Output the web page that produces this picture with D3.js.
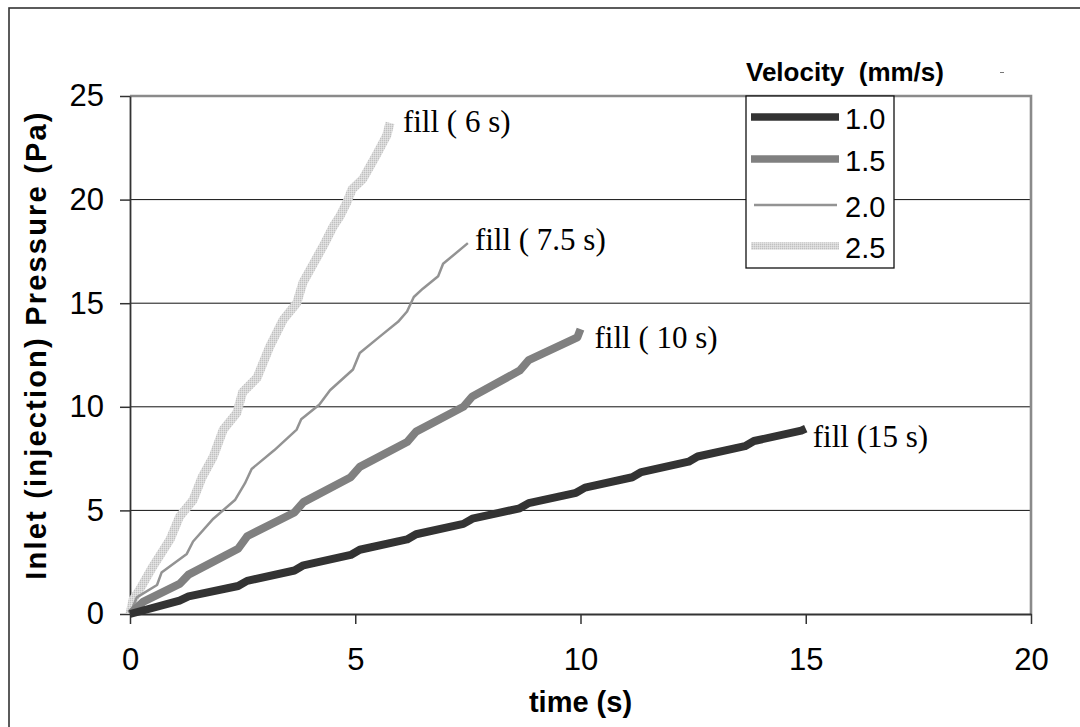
<!DOCTYPE html>
<html>
<head>
<meta charset="utf-8">
<script src="https://cdn.jsdelivr.net/npm/d3@7"></script>
<style>
  html, body { margin: 0; padding: 0; background: #ffffff; }
  svg { display: block; }
</style>
</head>
<body>
<svg id="chart" width="1080" height="727"></svg>
<script>
// Inlet pressure vs. time for four injection velocities

// axis ticks
const xTicks = [0, 5, 10, 15, 20];
const yTicks = [0, 5, 10, 15, 20, 25];

// velocity 1.0 mm/s  (fills in 15 s)
const time10 = [0, 1.1, 1.3, 2.4, 2.6, 3.65, 3.85, 4.9, 5.1, 6.15, 6.35, 7.4, 7.6, 8.65, 8.85, 9.9, 10.1, 11.15, 11.35, 12.4, 12.6, 13.65, 13.85, 14.9, 15.0];
const pres10 = [0, 0.65, 0.85, 1.35, 1.6, 2.1, 2.35, 2.85, 3.1, 3.6, 3.85, 4.35, 4.6, 5.1, 5.35, 5.85, 6.1, 6.6, 6.85, 7.35, 7.6, 8.1, 8.35, 8.85, 8.95];

// velocity 1.5 mm/s  (fills in 10 s)
const time15 = [0, 0.3, 1.1, 1.3, 2.4, 2.6, 3.65, 3.85, 4.9, 5.1, 6.15, 6.35, 7.4, 7.6, 8.65, 8.85, 9.93, 10.0];
const pres15 = [0, 0.6, 1.45, 1.9, 3.15, 3.75, 4.9, 5.4, 6.6, 7.1, 8.3, 8.8, 10.0, 10.5, 11.75, 12.25, 13.35, 13.75];

// velocity 2.0 mm/s  (fills in 7.5 s)
const time20 = [0, 0.15, 0.6, 0.7, 1.26, 1.4, 1.85, 2.33, 2.55, 2.7, 3.2, 3.7, 3.8, 4.2, 4.44, 4.95, 5.1, 5.55, 5.95, 6.15, 6.3, 6.5, 6.84, 6.95, 7.5];
const pres20 = [0, 0.8, 1.4, 2.0, 2.9, 3.5, 4.6, 5.5, 6.3, 7.0, 7.9, 8.9, 9.4, 10.1, 10.8, 11.8, 12.6, 13.4, 14.1, 14.6, 15.3, 15.7, 16.3, 16.9, 17.9];

// velocity 2.5 mm/s  (fills in 6 s)
const time25 = [0, 0.07, 0.22, 0.51, 0.89, 1.1, 1.4, 1.6, 1.85, 2.07, 2.37, 2.5, 2.82, 3.1, 3.4, 3.7, 3.84, 4.07, 4.3, 4.51, 4.66, 4.82, 4.93, 5.17, 5.3, 5.48, 5.7, 5.77];
const pres25 = [0, 0.7, 1.2, 2.3, 3.6, 4.7, 5.5, 6.6, 7.6, 8.9, 9.7, 10.7, 11.4, 12.9, 14.2, 15.0, 16.0, 16.9, 17.8, 18.7, 19.2, 19.9, 20.5, 21.0, 21.5, 22.2, 23.1, 23.7];

// legend entries and end-of-curve labels
const velocities = ["1.0", "1.5", "2.0", "2.5"];
const fillLabels = ["fill (15 s)", "fill ( 10 s)", "fill ( 7.5 s)", "fill ( 6 s)"];

const svg = d3.select("#chart");
const W = 1080, H = 727;
const plot = { left: 130, right: 1031, top: 96, bottom: 614 };

const x = d3.scaleLinear().domain([0, 20]).range([plot.left, plot.right]);
const y = d3.scaleLinear().domain([0, 25]).range([plot.bottom, plot.top]);

// speckled fill used for the 2.5 mm/s curve
const defs = svg.append("defs");
const pat = defs.append("pattern")
  .attr("id", "speckle").attr("patternUnits", "userSpaceOnUse")
  .attr("width", 2).attr("height", 2);
pat.append("rect").attr("width", 2).attr("height", 2).attr("fill", "#d8d8d8");
pat.append("rect").attr("width", 1).attr("height", 1).attr("fill", "#c0c0c0");
pat.append("rect").attr("x", 1).attr("y", 1).attr("width", 1).attr("height", 1).attr("fill", "#e4e4e4");

// outer frame
svg.append("rect")
  .attr("x", 9).attr("y", 8).attr("width", W + 20).attr("height", H + 20)
  .attr("fill", "none").attr("stroke", "#333").attr("stroke-width", 1.6);

// horizontal gridlines
svg.append("g").selectAll("line")
  .data(yTicks.filter(v => v > 0 && v < 25))
  .join("line")
  .attr("x1", plot.left).attr("x2", plot.right)
  .attr("y1", d => y(d)).attr("y2", d => y(d))
  .attr("stroke", "#111").attr("stroke-width", 1);

// top and right borders of the plot area
svg.append("path")
  .attr("d", `M${plot.left},${y(25)}H${x(20)}V${plot.bottom}`)
  .attr("fill", "none").attr("stroke", "#8a8a8a").attr("stroke-width", 2.6);

// axes
const fontSans = "'Liberation Sans', Arial, sans-serif";
const yAxis = svg.append("g")
  .attr("transform", `translate(${plot.left},0)`)
  .call(d3.axisLeft(y).tickValues(yTicks).tickSizeInner(10).tickSizeOuter(0).tickPadding(16));
const xAxis = svg.append("g")
  .attr("transform", `translate(0,${plot.bottom})`)
  .call(d3.axisBottom(x).tickValues(xTicks).tickSizeInner(10).tickSizeOuter(0).tickPadding(24));
[yAxis, xAxis].forEach(g => {
  g.select(".domain").attr("stroke", "#333").attr("stroke-width", 1.8);
  g.selectAll(".tick line").attr("stroke", "#333").attr("stroke-width", 1.5);
  g.selectAll("text").attr("font-family", fontSans).attr("font-size", 31).attr("fill", "#000");
});

// axis titles
svg.append("text")
  .attr("x", x(10)).attr("y", 712)
  .attr("text-anchor", "middle")
  .attr("font-family", fontSans).attr("font-weight", "bold").attr("font-size", 29)
  .text("time (s)");
svg.append("text")
  .attr("transform", `translate(46,345) rotate(-90)`)
  .attr("text-anchor", "middle")
  .attr("font-family", fontSans).attr("font-weight", "bold").attr("font-size", 29)
  .attr("letter-spacing", 2.2)
  .text("Inlet (injection) Pressure (Pa)");

// series
const series = [
  { t: time10, p: pres10, stroke: "#333333", width: 8 },
  { t: time15, p: pres15, stroke: "#808080", width: 8 },
  { t: time20, p: pres20, stroke: "#939393", width: 2.5 },
  { t: time25, p: pres25, stroke: "url(#speckle)", width: 9 }
];
const line = d3.line().x(d => x(d[0])).y(d => y(d[1]));

const curves = svg.append("g");
// lightest first so the darker curves sit on top near the origin
[3, 2, 1, 0].forEach(i => {
  const s = series[i];
  curves.append("path")
    .datum(d3.zip(s.t, s.p))
    .attr("d", line)
    .attr("fill", "none")
    .attr("stroke", s.stroke)
    .attr("stroke-width", s.width)
    .attr("stroke-linejoin", "round")
    .attr("stroke-linecap", "butt");
});

// end-of-curve labels
const labelOffsets = [[7, 18], [14, 19], [7, 7], [13, 9]];
series.forEach((s, i) => {
  const n = s.t.length - 1;
  svg.append("text")
    .attr("x", x(s.t[n]) + labelOffsets[i][0])
    .attr("y", y(s.p[n]) + labelOffsets[i][1])
    .attr("font-family", "'Liberation Serif', 'Times New Roman', serif")
    .attr("font-size", 31)
    .text(fillLabels[i]);
});

// legend
const lg = svg.append("g");
lg.append("rect")
  .attr("x", 746).attr("y", 96).attr("width", 148).attr("height", 172)
  .attr("fill", "#fff").attr("stroke", "#111").attr("stroke-width", 1.3);
const rowY = [117, 159, 205, 246];
velocities.forEach((v, i) => {
  const s = series[i];
  lg.append("line")
    .attr("x1", i === 2 ? 754 : 751).attr("x2", i === 2 ? 837 : 839)
    .attr("y1", rowY[i]).attr("y2", rowY[i])
    .attr("stroke", s.stroke)
    .attr("stroke-width", i === 2 ? 2.5 : 7.5);
  lg.append("text")
    .attr("x", 845).attr("y", rowY[i] + 12)
    .attr("font-family", fontSans).attr("font-size", 29)
    .text(v);
});
svg.append("text")
  .attr("x", 746).attr("y", 81)
  .attr("font-family", fontSans).attr("font-weight", "bold").attr("font-size", 26)
  .attr("xml:space", "preserve")
  .style("white-space", "pre")
  .text("Velocity  (mm/s)");

// small stray tick mark beside the legend title
svg.append("line")
  .attr("x1", 1000).attr("x2", 1004).attr("y1", 72.5).attr("y2", 72.5)
  .attr("stroke", "#777").attr("stroke-width", 1);
</script>
</body>
</html>
